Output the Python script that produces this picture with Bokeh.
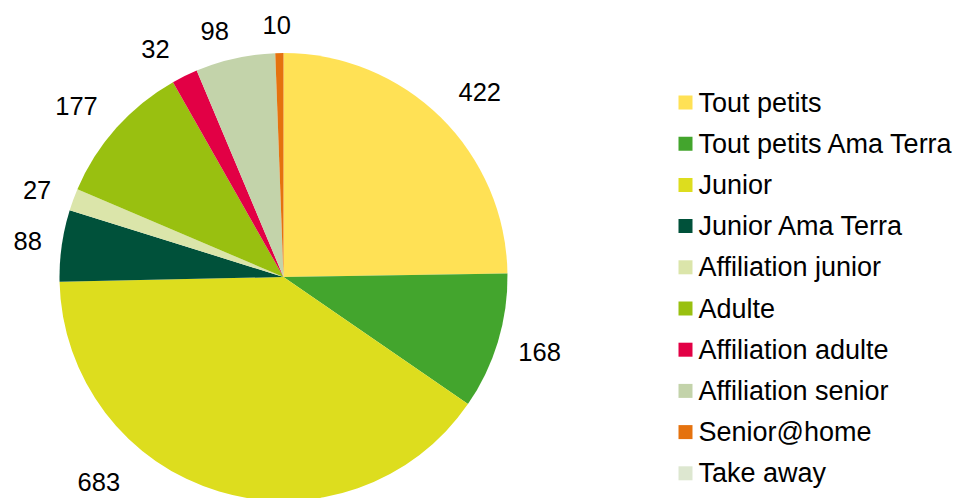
import math
from bokeh.plotting import figure
from bokeh.models import Range1d, ColumnDataSource
from bokeh.core.properties import value
from bokeh.embed import file_html
from bokeh.resources import INLINE

# ---- data ----
categories = ["Tout petits", "Tout petits Ama Terra", "Junior", "Junior Ama Terra",
              "Affiliation junior", "Adulte", "Affiliation adulte", "Affiliation senior",
              "Senior@home", "Take away"]
counts = [422, 168, 683, 88, 27, 177, 32, 98, 10, 0]
colors = ["#FFE155", "#43A52D", "#DDDD1E", "#00513A", "#DBE5AA",
          "#99C010", "#E20045", "#C3D3AA", "#E5720E", "#DDE7D0"]

# ---- layout ----
W, H = 957, 498
CX, CY, R = 283, 221.5, 224
FONT = value("Liberation Sans")
FS_LAB = "25.5px"
FS_LEG = "27px"

p = figure(width=W, height=H, output_backend="svg", toolbar_location=None,
           x_range=Range1d(0, W), y_range=Range1d(0, H), min_border=0)
p.axis.visible = False
p.grid.visible = False
p.outline_line_color = None
p.background_fill_color = "white"

total = sum(counts)
starts, ends, mids, cols = [], [], [], []
a = math.pi / 2
for c, col in zip(counts, colors):
    span = 2 * math.pi * c / total
    if c > 0:
        starts.append(a)
        ends.append(a - span)
        cols.append(col)
    mids.append(a - span / 2)
    a -= span

src = ColumnDataSource(dict(start=starts, end=ends, color=cols))
p.wedge(x=CX, y=CY, radius=R, radius_units="screen", start_angle="start",
        end_angle="end", direction="clock", fill_color="color", line_color=None,
        source=src)

# data labels (outside end); small placement nudges (screen px, dx, dy-up)
angle_override = {"Junior": math.radians(-132)}
nudge = {"Tout petits": (10, 4), "Tout petits Ama Terra": (2, -1), "Junior": (-7, -16),
         "Affiliation junior": (-4, -1), "Adulte": (-9, 2), "Affiliation adulte": (-14, 0),
         "Affiliation senior": (-13, -2), "Senior@home": (-2, -2)}
lx, ly, lt = [], [], []
for cat, c, m in zip(categories, counts, mids):
    if c <= 0:
        continue
    th = angle_override.get(cat, m)
    txt = str(c)
    w = len(txt) * 14.3
    dx, dy = nudge.get(cat, (0, 0))
    lx.append(CX + (R + 20) * math.cos(th) + (w / 2) * math.cos(th) + dx)
    ly.append(CY + (R + 20) * math.sin(th) + 10 * math.sin(th) + dy)
    lt.append(txt)
p.text(x=lx, y=ly, text=lt, text_align="center", text_baseline="middle",
       text_font=FONT, text_font_size=FS_LAB, text_color="black")

# legend
n = len(categories)
leg_y = [396 - i * 41.2 for i in range(n)]
p.rect(x=[685] * n, y=leg_y, width=14, height=14, width_units="screen",
       height_units="screen", fill_color=colors, line_color=None)
p.text(x=[698] * n, y=leg_y, text=categories, text_align="left",
       text_baseline="middle", text_font=FONT, text_font_size=FS_LEG, text_color="black")

open("out.html", "w").write(file_html(p, INLINE))
